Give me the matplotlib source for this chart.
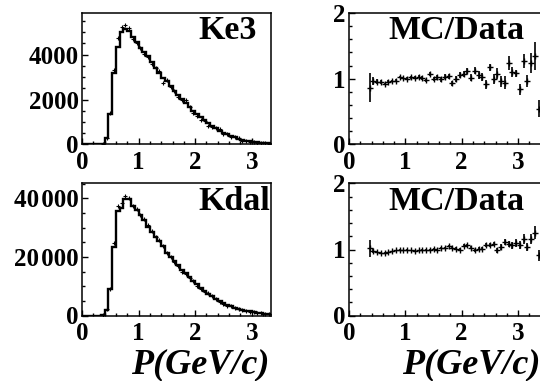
import numpy as np
import matplotlib
matplotlib.use("Agg")
import matplotlib.pyplot as plt
from matplotlib.ticker import MultipleLocator, FixedLocator

# ---------------- data ----------------
n_bins = 51                 # bins of 1/15 GeV/c from 0 to 3.4
first_ratio_bin = 5

ke3_mc = [0, 0, 0, 0, 0, 30, 275, 1350, 3160, 4340, 4990, 5140, 5030, 4790, 4580,
          4310, 4110, 3940, 3680, 3420, 3190, 2940, 2820, 2620, 2370, 2180, 2040,
          1850, 1650, 1470, 1350, 1220, 1070, 950, 830, 730, 620, 530, 460, 380,
          320, 260, 215, 170, 140, 110, 90, 70, 55, 45, 35]

kdal_mc = [0, 0, 0, 0, 0, 300, 2000, 8900, 23500, 35700, 36800, 39700, 39700, 37400,
           36000, 34200, 32500, 30200, 28600, 26800, 25600, 23700, 21400, 20100,
           18600, 17200, 15700, 14400, 13100, 11700, 10600, 9500, 8400, 7500, 6600,
           5700, 5000, 4300, 3700, 3200, 2700, 2300, 1950, 1650, 1400, 1150, 950,
           800, 650, 520, 420]

ke3_ratio = [0.86, 0.96, 0.955, 0.95, 0.92, 0.955, 0.965, 0.97, 1.025, 1.01, 1.0,
             1.025, 1.015, 1.03, 1.01, 0.975, 1.075, 0.99, 1.03, 0.99, 1.03,
             1.04, 0.93, 1.0, 1.06, 1.075, 1.115, 1.015, 1.125, 1.06, 1.025, 0.915,
             1.175, 1.0, 1.075, 0.96, 0.94, 1.235, 1.1, 1.085, 0.84, 1.27, 0.97,
             1.235, 1.35, 0.545]
ke3_ratio_err = [0.22, 0.06, 0.035, 0.025, 0.022, 0.02, 0.02, 0.02, 0.02, 0.02,
                 0.022, 0.022, 0.024, 0.025, 0.026, 0.028, 0.03, 0.03, 0.032, 0.034,
                 0.036, 0.038, 0.04, 0.042, 0.045, 0.048, 0.05, 0.053, 0.056, 0.06,
                 0.064, 0.068, 0.056, 0.077, 0.082, 0.088, 0.095, 0.106, 0.076,
                 0.055, 0.08, 0.11, 0.09, 0.15, 0.21, 0.13]

kdal_ratio = [1.02, 0.975, 0.965, 0.95, 0.95, 0.96, 0.975, 0.985, 1.0, 0.99, 1.0,
              0.99, 0.98, 0.99, 1.0, 0.99, 1.0, 1.01, 1.0,
              1.025, 1.02, 1.05, 1.02, 1.015, 1.0, 1.06, 1.065, 1.03, 0.985, 1.015,
              1.015, 1.065, 1.065, 1.085, 0.985, 1.04, 1.115, 1.09, 1.065, 1.1,
              1.065, 1.155, 1.04, 1.16, 1.255, 0.91]
kdal_ratio_err = [0.13, 0.03, 0.015, 0.01, 0.008, 0.008, 0.008, 0.008, 0.008, 0.008,
                  0.008, 0.009, 0.009, 0.01, 0.01, 0.011, 0.012, 0.012, 0.013, 0.014,
                  0.015, 0.016, 0.017, 0.018, 0.019, 0.02, 0.022, 0.024, 0.026, 0.028,
                  0.03, 0.032, 0.034, 0.036, 0.038, 0.04, 0.042, 0.045, 0.05, 0.055,
                  0.06, 0.075, 0.065, 0.07, 0.1, 0.09]

panel_titles = ["Ke3", "Kdal"]
ratio_title = "MC/Data"
x_title = "P(GeV/c)"
ke3_yticks = [0, 2000, 4000]
ke3_yticklabels = ["0", "2000", "4000"]
kdal_yticks = [0, 20000, 40000]
kdal_yticklabels = ["0", "20\u200a000", "40\u200a000"]
ratio_yticks = [0, 1, 2]
x_ticks = [0, 1, 2, 3]

# ---------------- style ----------------
SERIF = ["Liberation Serif", "DejaVu Serif"]
plt.rcParams["font.family"] = SERIF
plt.rcParams["font.weight"] = "bold"

fig = plt.figure(figsize=(5.4, 3.81), dpi=100)

W, H = 540.0, 381.0
def rect(x0, y_top, x1, y_bot):
    return [x0 / W, 1 - y_bot / H, (x1 - x0) / W, (y_bot - y_top) / H]

ax_tl = fig.add_axes(rect(82, 13, 271, 144.5))
ax_bl = fig.add_axes(rect(82, 183.5, 271, 315.5))
ax_tr = fig.add_axes(rect(349, 13, 540.6, 144.5))
ax_br = fig.add_axes(rect(349, 183.5, 540.6, 315.5))

edges = np.arange(n_bins + 1) / 15.0
centers = 0.5 * (edges[:-1] + edges[1:])
rc = centers[first_ratio_bin:first_ratio_bin + len(ke3_ratio)]

TICKFS = 18
TITLEFS = 24.5
XTFS = 26

def style(ax, xmax, ymax, yticks, yticklabels, yminor):
    ax.set_xlim(0, xmax)
    ax.set_ylim(0, ymax)
    ax.xaxis.set_major_locator(FixedLocator(x_ticks))
    ax.xaxis.set_minor_locator(MultipleLocator(0.2))
    ax.set_xticklabels([str(t) for t in x_ticks])
    ax.yaxis.set_major_locator(FixedLocator(yticks))
    ax.yaxis.set_minor_locator(MultipleLocator(yminor))
    ax.set_yticklabels(yticklabels)
    ax.tick_params(which="both", direction="in", top=False, right=False,
                   width=1.0, labelsize=TICKFS)
    ax.tick_params(which="major", length=4.5)
    ax.tick_params(which="minor", length=2.2)
    ax.tick_params(axis="x", pad=5)
    ax.tick_params(axis="y", pad=2.5)
    for lab in ax.get_xticklabels() + ax.get_yticklabels():
        lab.set_fontweight("bold")
        lab.set_family(SERIF)
    for s in ax.spines.values():
        s.set_linewidth(1.1)

# left panels: MC histogram + data points
for ax, mc, ratio, ymax, yt, ytl, ymin_, title in [
        (ax_tl, ke3_mc, ke3_ratio, 5850, ke3_yticks, ke3_yticklabels, 500, panel_titles[0]),
        (ax_bl, kdal_mc, kdal_ratio, 45100, kdal_yticks, kdal_yticklabels, 5000, panel_titles[1])]:
    ax.stairs(mc, edges, color="black", linewidth=1.7)
    mc_arr = np.asarray(mc, dtype=float)[first_ratio_bin:first_ratio_bin + len(ratio)]
    data = mc_arr / np.asarray(ratio)
    ax.plot(rc, data, linestyle="none", marker="+", ms=3, mew=0.8, color="black")
    style(ax, 3.34, ymax, yt, ytl, ymin_)
    ax.text(0.614, 0.80, title, transform=ax.transAxes, ha="left", va="baseline",
            fontsize=TITLEFS, fontweight="bold", family=SERIF)

# right panels: ratio
for ax, ratio, err in [(ax_tr, ke3_ratio, ke3_ratio_err),
                       (ax_br, kdal_ratio, kdal_ratio_err)]:
    ax.errorbar(rc, ratio, yerr=err, fmt="+", ms=4, mew=1.0, color="black",
                elinewidth=1.2, capsize=0)
    style(ax, 3.4, 2, ratio_yticks, [str(t) for t in ratio_yticks], 0.2)
    ax.text(0.204, 0.80, ratio_title, transform=ax.transAxes, ha="left",
            va="baseline", fontsize=TITLEFS, fontweight="bold", family=SERIF)

# x-axis titles
ax_bl.text(0.99, -0.437, x_title, transform=ax_bl.transAxes, ha="right",
           va="baseline", fontsize=XTFS, fontweight="bold", style="italic",
           family=SERIF)
ax_br.text(1.0, -0.437, x_title, transform=ax_br.transAxes, ha="right",
           va="baseline", fontsize=XTFS, fontweight="bold", style="italic",
           family=SERIF)

fig.savefig("out.png", dpi=100)
